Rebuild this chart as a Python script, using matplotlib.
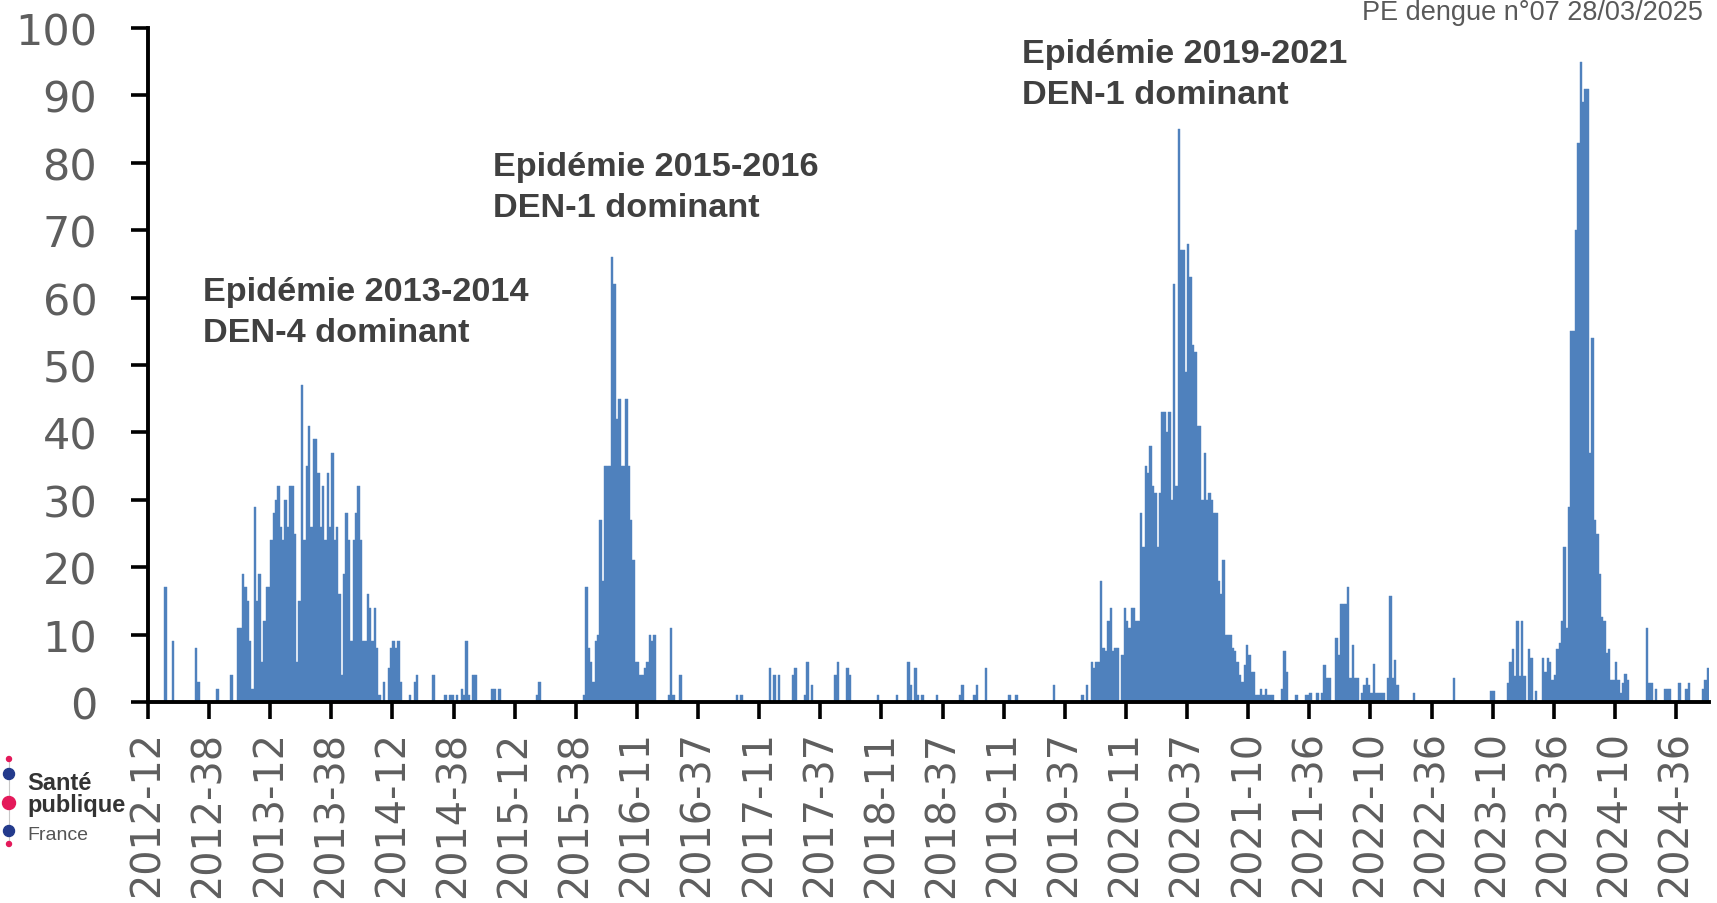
import datetime as dt
import numpy as np
import matplotlib
matplotlib.use("Agg")
import matplotlib.pyplot as plt
from matplotlib.patches import Circle

# weekly values, one block of 52 weeks per list,
# first value = ISO week 2012-12
weeks_2012_13 = [0, 0, 0, 0, 0, 0, 0, 17, 0, 0, 9, 0, 0, 0, 0, 0, 0, 0, 0, 0,
                 8, 3, 0, 0, 0, 0, 0, 0, 0, 2, 0, 0, 0, 0, 0, 4, 0, 0, 11, 11,
                 19, 17, 15, 9, 2, 29, 15, 19, 6, 12, 17, 17]
weeks_2013_14 = [24, 28, 30, 32, 26, 24, 30, 26, 32, 32, 25, 6, 15, 47, 24, 35, 41, 26, 39, 39,
                 34, 26, 32, 24, 34, 26, 37, 24, 26, 16, 4, 19, 28, 24, 9, 24, 28, 32, 24, 9,
                 9, 16, 14, 9, 14, 8, 1, 0, 3, 0, 5, 8]
weeks_2014_15 = [9, 8, 9, 3, 0, 0, 0, 1, 0, 3, 4, 0, 0, 0, 0, 0, 0, 4, 0, 0,
                 0, 0, 1, 0, 1, 1, 0, 1, 0, 2, 1, 9, 1, 0, 4, 4, 0, 0, 0, 0,
                 0, 0, 2, 2, 0, 2, 0, 0, 0, 0, 0, 0]
weeks_2015_16 = [0, 0, 0, 0, 0, 0, 0, 0, 0, 1, 3, 0, 0, 0, 0, 0, 0, 0, 0, 0,
                 0, 0, 0, 0, 0, 0, 0, 0, 0, 1, 17, 8, 6, 3, 9, 10, 27, 18, 35, 35,
                 35, 66, 62, 42, 45, 35, 35, 45, 35, 27, 21, 6]
weeks_2016_17 = [6, 4, 4, 5, 6, 10, 9, 10, 0, 0, 0, 0, 0, 1, 11, 1, 0, 0, 4, 0,
                 0, 0, 0, 0, 0, 0, 0, 0, 0, 0, 0, 0, 0, 0, 0, 0, 0, 0, 0, 0,
                 0, 0, 1, 0, 1, 0, 0, 0, 0, 0, 0, 0]
weeks_2017_18 = [0, 0, 0, 0, 5, 0, 4, 0, 4, 0, 0, 0, 0, 0, 4, 5, 0, 0, 0, 1,
                 6, 0, 2.5, 0, 0, 0, 0, 0, 0, 0, 0, 0, 4, 6, 0, 0, 0, 5, 4, 0,
                 0, 0, 0, 0, 0, 0, 0, 0, 0, 0, 1, 0]
weeks_2018_19 = [0, 0, 0, 0, 0, 0, 1, 0, 0, 0, 0, 6, 2.5, 0, 5, 1, 0, 1, 0, 0,
                 0, 0, 0, 1, 0, 0, 0, 0, 0, 0, 0, 0, 0, 1, 2.5, 0, 0, 0, 0, 1,
                 2.5, 0, 0, 0, 5, 0, 0, 0, 0, 0, 0, 0]
weeks_2019_20 = [0, 0, 1, 0, 0, 1, 0, 0, 0, 0, 0, 0, 0, 0, 0, 0, 0, 0, 0, 0,
                 0, 2.5, 0, 0, 0, 0, 0, 0, 0, 0, 0, 0, 0, 1, 0, 2.5, 0, 6, 5, 6,
                 6, 18, 8, 7.5, 12, 14, 7.5, 8, 8, 0, 7, 14]
weeks_2020_21 = [12, 11, 14, 14, 12, 12, 28, 23, 35, 34, 38, 32, 31, 23, 31, 43, 43, 40, 43, 30,
                 62, 32, 85, 67, 67, 49, 68, 63, 53, 52, 41, 41, 30, 37, 30, 31, 30, 28, 28, 18,
                 16, 21, 10, 10, 10, 8, 7.5, 6, 4, 3, 5.5, 8.5]
weeks_2021_22 = [7, 4.5, 4.5, 1, 1, 2, 1, 2, 1, 1, 1, 0, 0, 0, 2, 7.5, 4.5, 0, 0, 0,
                 1, 0, 0, 0, 1, 1, 1.4, 0, 0, 1.4, 0, 1.4, 5.5, 3.5, 3.5, 0, 0, 9.5, 7, 14.5,
                 14.5, 14.5, 17, 3.5, 8.5, 3.5, 3.5, 0, 1.4, 2.5, 3.5, 2.5]
weeks_2022_23 = [1.4, 5.6, 1.4, 1.4, 1.4, 1.4, 0, 3.5, 15.7, 3.5, 6.3, 2.5, 0, 0, 0, 0, 0, 0, 1.4, 0,
                 0, 0, 0, 0, 0, 0, 0, 0, 0, 0, 0, 0, 0, 0, 0, 3.5, 0, 0, 0, 0,
                 0, 0, 0, 0, 0, 0, 0, 0, 0, 0, 0, 1.7]
weeks_2023_24 = [1.7, 0, 0, 0, 0, 0, 2.8, 6, 7.9, 3.8, 12, 3.8, 12, 3.8, 0, 7.9, 6.6, 0, 1.7, 0,
                 0, 6.6, 4.5, 6.6, 6, 3.2, 4, 7.9, 8.8, 12, 23, 11, 29, 55, 55, 70, 83, 95, 89, 91,
                 91, 37, 54, 27, 25, 19, 12.6, 12, 7.3, 7.9, 3.2, 3.2]
weeks_2024 = [6, 3.2, 1.3, 2.8, 4.1, 3.2, 0, 0, 0, 0, 0, 0, 0, 11, 2.8, 2.8, 0, 1.9, 0, 0,
              0, 1.9, 1.9, 1.9, 0, 0, 0, 2.8, 0, 0, 1.9, 2.8, 0, 0, 0, 0, 0, 1.9, 3.2, 5]

cases = (weeks_2012_13 + weeks_2013_14 + weeks_2014_15 + weeks_2015_16 + weeks_2016_17
         + weeks_2017_18 + weeks_2018_19 + weeks_2019_20 + weeks_2020_21 + weeks_2021_22
         + weeks_2022_23 + weeks_2023_24 + weeks_2024)

# category labels "YYYY-WW" (ISO weeks), one label shown every 26 weeks
start = dt.date.fromisocalendar(2012, 12, 1)
week_labels = []
for i in range(len(cases)):
    y, w, _ = (start + dt.timedelta(weeks=i)).isocalendar()
    week_labels.append(f"{y}-{w:02d}")
label_step = 26

epidemics = [("Epidémie 2013-2014", "DEN-4 dominant"),
             ("Epidémie 2015-2016", "DEN-1 dominant"),
             ("Epidémie 2019-2021", "DEN-1 dominant")]
note = "PE dengue n°07 28/03/2025"

W, H = 1717, 904
fig = plt.figure(figsize=(W / 100, H / 100), dpi=100)
ax = fig.add_axes([148 / W, 1 - 703 / H, (1709 - 148) / W, (703 - 29) / H])

x = np.arange(len(cases))
ax.bar(x, cases, width=1.0, align="edge", color="#4f81bd",
       edgecolor="#4f81bd", linewidth=0.3)
ax.set_xlim(0, len(cases))
ax.set_ylim(0, 100)
ax.set_yticks(range(0, 101, 10))
ax.set_xticks(x[::label_step])
ax.set_xticklabels(week_labels[::label_step], rotation=90)

ax.tick_params(direction="out", length=12.5, width=2.6, color="black", labelcolor="#5e5e5e")
ax.tick_params(axis="y", labelsize=31, pad=24)
ax.tick_params(axis="x", labelsize=28.6, pad=8)
for s in ["top", "right"]:
    ax.spines[s].set_visible(False)
for s in ["left", "bottom"]:
    ax.spines[s].set_linewidth(2.8)

# overlay in pixel coordinates for the notes and the logo
ov = fig.add_axes([0, 0, 1, 1])
ov.set_xlim(0, W)
ov.set_ylim(H, 0)
ov.axis("off")

txt = dict(fontsize=24.7, fontweight="bold", family="Liberation Sans",
           color="#404040", va="baseline", ha="left")
spots = [(203, 301), (493, 176), (1022, 63)]
for (l1, l2), (px, py) in zip(epidemics, spots):
    ov.text(px, py, l1, **txt)
    ov.text(px, py + 41, l2, **txt)

ov.text(1362, 20, note, fontsize=19.5, family="Liberation Sans",
        color="#595959", va="baseline", ha="left")

# Santé publique France logo
navy, red = "#233a8c", "#e4195a"
ov.plot([9, 9], [760, 845], color="#c8c8c8", lw=0.8)
for cy, r, c in [(760, 2.5, red), (775, 5.5, navy), (804, 6.5, red),
                 (832, 5.5, navy), (845, 2.5, red)]:
    ov.add_patch(Circle((9, cy), r, color=c, zorder=3))
ov.text(27, 790, "Santé", fontsize=17, fontweight="bold", family="Liberation Sans",
        color="#333333", va="baseline")
ov.text(27, 812, "publique", fontsize=17, fontweight="bold", family="Liberation Sans",
        color="#333333", va="baseline")
ov.text(27, 840, "France", fontsize=14, family="Liberation Sans",
        color="#555555", va="baseline")

fig.savefig("out.png", dpi=100)
